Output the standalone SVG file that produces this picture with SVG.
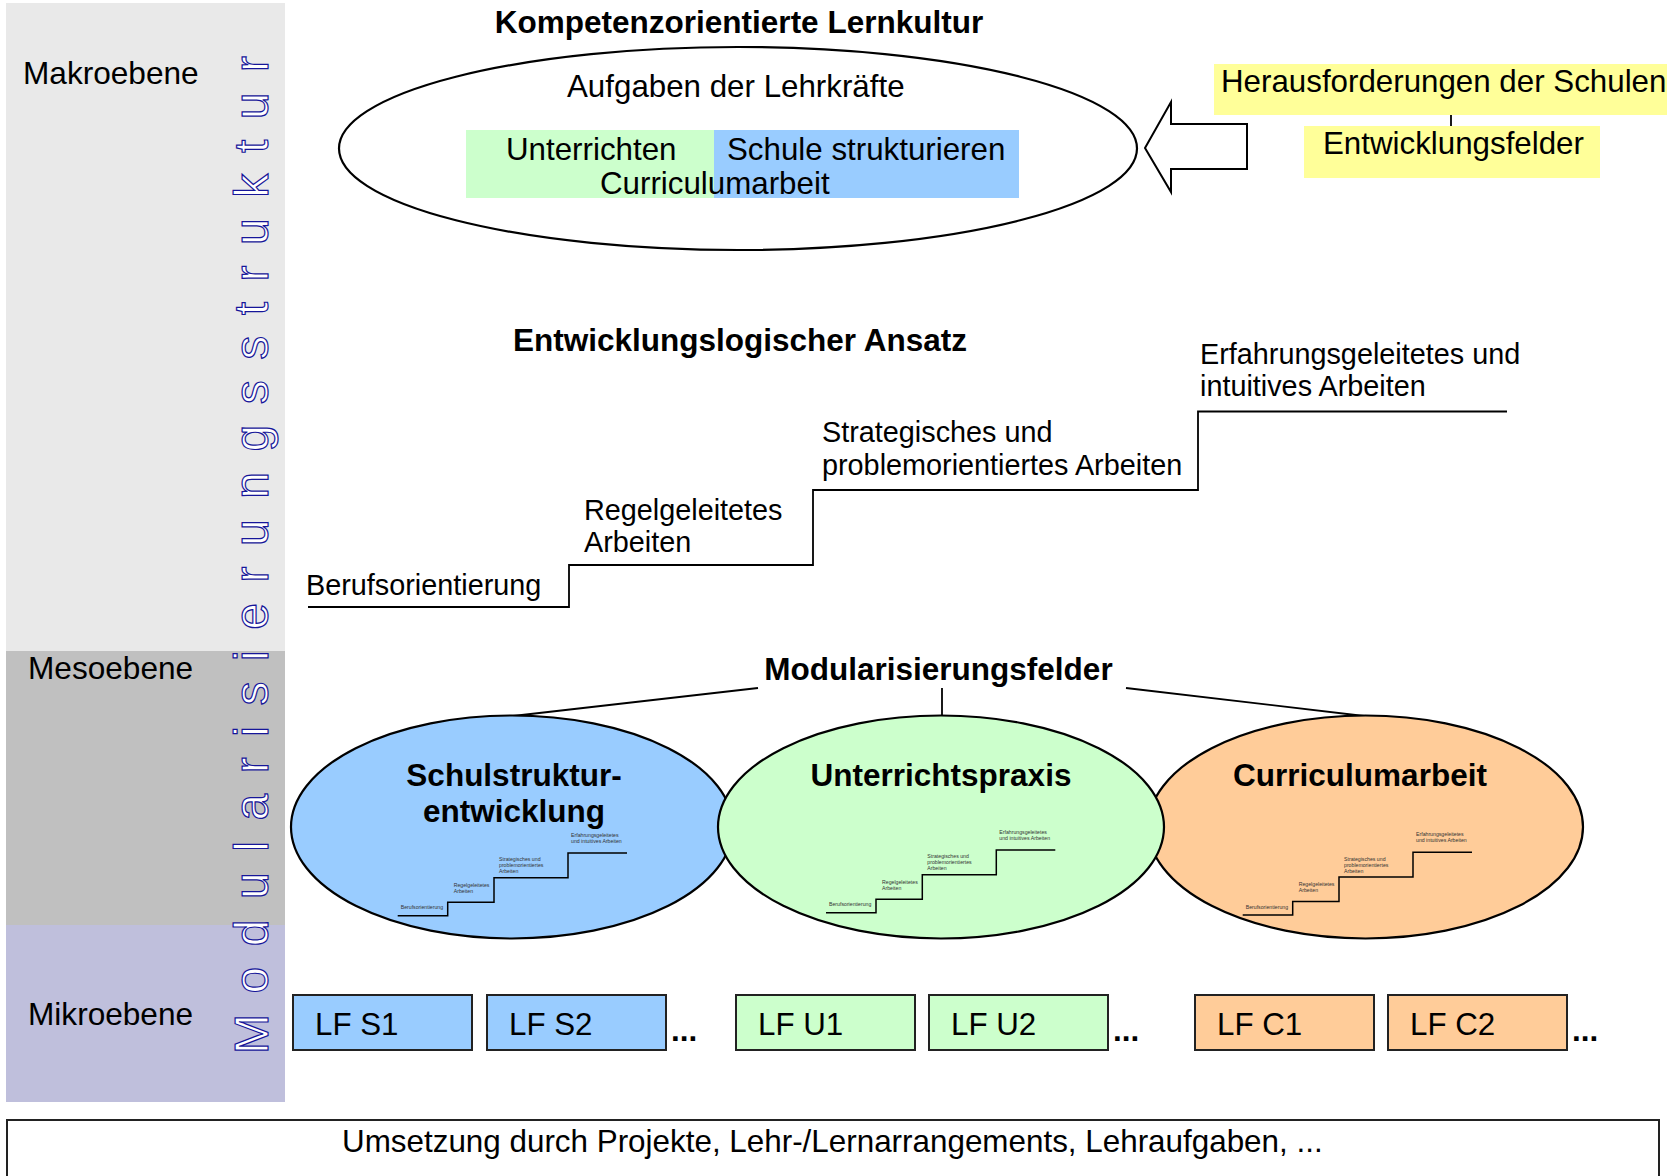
<svg xmlns="http://www.w3.org/2000/svg" width="1667" height="1176" viewBox="0 0 1667 1176">
<style>
  text { font-family: "Liberation Sans", Arial, sans-serif; fill: #000; }
  .t31 { font-size: 31.3px; }
  .lvl { font-size: 31.6px; }
  .b31 { font-size: 31.5px; font-weight: bold; }
  .st { font-size: 28.8px; }
  .mini { font-size: 5.2px; fill: #333; }
  .ln { stroke: #000; stroke-width: 1.8; fill: none; }
  .ell { stroke: #000; stroke-width: 2.2; }
  .lf { stroke: #222; stroke-width: 2; }
  .vert { font-size: 48px; fill: #fff; stroke: #16169a; stroke-width: 1.2; }
</style>
<defs>
  <g id="ministair">
    <polyline points="0,0 50,0 50,-13.4 96.3,-13.4 96.3,-38 170.3,-38 170.3,-62.7 229.3,-62.7" fill="none" stroke="#000" stroke-width="1.5"/>
    <text class="mini" x="3" y="-6.4">Berufsorientierung</text>
    <text class="mini" x="56" y="-29">Regelgeleitetes</text>
    <text class="mini" x="56" y="-23">Arbeiten</text>
    <text class="mini" x="101.3" y="-54.4">Strategisches und</text>
    <text class="mini" x="101.3" y="-48.4">problemorientiertes</text>
    <text class="mini" x="101.3" y="-42.4">Arbeiten</text>
    <text class="mini" x="173.3" y="-79">Erfahrungsgeleitetes</text>
    <text class="mini" x="173.3" y="-73">und intuitives Arbeiten</text>
  </g>
</defs>
<rect width="1667" height="1176" fill="#fff"/>

<!-- level panels -->
<g id="levels">
  <rect x="6" y="3" width="279" height="648" fill="#e9e9e9"/>
  <rect x="6" y="651" width="279" height="274" fill="#c0c0c0"/>
  <rect x="6" y="925" width="279" height="177" fill="#bfbfdc"/>
  <text class="lvl" x="23" y="84">Makroebene</text>
  <text class="lvl" x="28" y="679">Mesoebene</text>
  <text class="lvl" x="28" y="1025">Mikroebene</text>
  <text class="vert" transform="translate(268,1054) rotate(-90)" textLength="998" lengthAdjust="spacing">Modularisierungsstruktur</text>
</g>

<!-- top: Kompetenzorientierte Lernkultur -->
<g id="lernkultur">
  <text class="b31" x="739" y="33" text-anchor="middle">Kompetenzorientierte Lernkultur</text>
  <ellipse class="ell" cx="738" cy="148.5" rx="399" ry="101.5" fill="#fff" stroke-width="2.6"/>
  <text class="t31" x="567" y="97">Aufgaben der Lehrkräfte</text>
  <rect x="466" y="130" width="248" height="68" fill="#ccffcc"/>
  <rect x="714" y="130" width="305" height="68" fill="#99ccff"/>
  <text class="t31" x="506" y="159.5">Unterrichten</text>
  <text class="t31" x="727" y="159.5">Schule strukturieren</text>
  <text class="t31" x="600" y="194">Curriculumarbeit</text>
</g>

<g id="herausforderungen">
  <rect x="1214" y="64" width="453" height="51" fill="#ffff99"/>
  <text class="t31" x="1221" y="92">Herausforderungen der Schulen</text>
</g>
<g id="entwicklungsfelder">
  <rect x="1304" y="126" width="296" height="52" fill="#ffff99"/>
  <text class="t31" x="1323" y="154">Entwicklungsfelder</text>
</g>

<!-- middle: Entwicklungslogischer Ansatz -->
<g id="ansatz">
  <text class="b31" x="513" y="351">Entwicklungslogischer Ansatz</text>
  <polyline class="ln" points="308,607 569,607 569,565 813,565 813,490 1198,490 1198,411.5 1507,411.5"/>
  <text class="st" x="306" y="595">Berufsorientierung</text>
  <text class="st" x="584" y="520">Regelgeleitetes</text>
  <text class="st" x="584" y="552">Arbeiten</text>
  <text class="st" x="822" y="441.5">Strategisches und</text>
  <text class="st" x="822" y="475">problemorientiertes Arbeiten</text>
  <text class="st" x="1200" y="363.5">Erfahrungsgeleitetes und</text>
  <text class="st" x="1200" y="396">intuitives Arbeiten</text>
</g>

<g id="modularisierungsfelder">
  <text class="b31" x="938.5" y="680" text-anchor="middle">Modularisierungsfelder</text>
</g>

<!-- connectors -->
<g id="connectors">
  <line class="ln" x1="1451" y1="115" x2="1451" y2="126" stroke-width="1.5"/>
  <polygon points="1145,148 1171,102 1171,124 1247,124 1247,169 1171,169 1171,192" fill="#fff" stroke="#000" stroke-width="2"/>
  <line class="ln" x1="758" y1="688" x2="513" y2="716"/>
  <line class="ln" x1="942" y1="688" x2="942" y2="716"/>
  <line class="ln" x1="1126" y1="688" x2="1364" y2="716"/>
</g>

<!-- meso ellipses -->
<g id="schulstruktur">
  <ellipse class="ell" cx="512" cy="827" rx="221" ry="111.5" fill="#99ccff"/>
  <text class="b31" x="514" y="786" text-anchor="middle">Schulstruktur-</text>
  <text class="b31" x="514" y="822" text-anchor="middle">entwicklung</text>
  <use href="#ministair" transform="translate(397.7,915.7)"/>
</g>
<g id="curriculum">
  <ellipse class="ell" cx="1365.5" cy="827" rx="217.5" ry="111.5" fill="#ffcc99"/>
  <text class="b31" x="1360" y="786" text-anchor="middle">Curriculumarbeit</text>
  <use href="#ministair" transform="translate(1242.7,915)"/>
</g>
<g id="unterricht">
  <ellipse class="ell" cx="941" cy="827" rx="223" ry="111.5" fill="#ccffcc"/>
  <text class="b31" x="941" y="786" text-anchor="middle">Unterrichtspraxis</text>
  <use href="#ministair" transform="translate(826,912.7)"/>
</g>

<!-- micro boxes -->
<g id="lf-s1"><rect class="lf" x="293" y="995" width="179" height="55" fill="#99ccff"/><text class="t31" x="315" y="1035">LF S1</text></g>
<g id="lf-s2"><rect class="lf" x="487" y="995" width="179" height="55" fill="#99ccff"/><text class="t31" x="509" y="1035">LF S2</text></g>
<text class="b31" x="671" y="1041">...</text>
<g id="lf-u1"><rect class="lf" x="736" y="995" width="179" height="55" fill="#ccffcc"/><text class="t31" x="758" y="1035">LF U1</text></g>
<g id="lf-u2"><rect class="lf" x="929" y="995" width="179" height="55" fill="#ccffcc"/><text class="t31" x="951" y="1035">LF U2</text></g>
<text class="b31" x="1113" y="1041">...</text>
<g id="lf-c1"><rect class="lf" x="1195" y="995" width="179" height="55" fill="#ffcc99"/><text class="t31" x="1217" y="1035">LF C1</text></g>
<g id="lf-c2"><rect class="lf" x="1388" y="995" width="179" height="55" fill="#ffcc99"/><text class="t31" x="1410" y="1035">LF C2</text></g>
<text class="b31" x="1572" y="1041">...</text>

<g id="umsetzung">
  <rect x="7" y="1120" width="1652" height="80" fill="#fff" stroke="#222" stroke-width="2"/>
  <text class="t31" x="342" y="1152" style="font-size:31.4px">Umsetzung durch Projekte, Lehr-/Lernarrangements, Lehraufgaben, ...</text>
</g>
</svg>
